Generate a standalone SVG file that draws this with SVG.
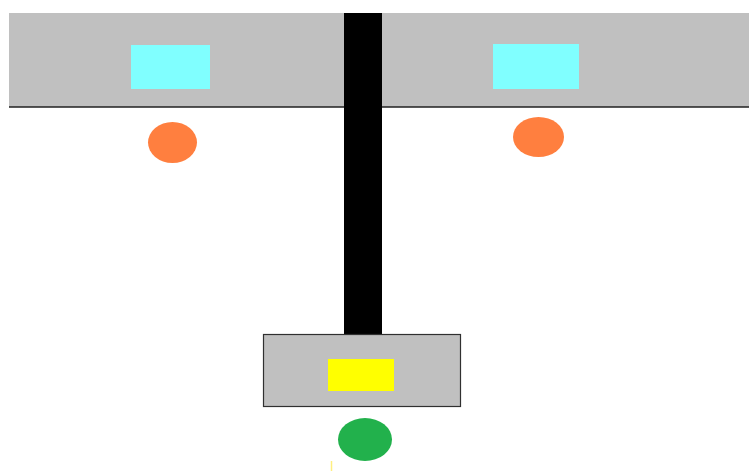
<svg xmlns="http://www.w3.org/2000/svg" width="749" height="471" viewBox="0 0 749 471">
<style>
.gray{fill:#c0c0c0}
.cyan{fill:#80ffff}
.orange{fill:#ff7f3f}
</style>
<rect width="749" height="471" fill="#ffffff"/>
<g id="band">
<rect class="gray" x="9" y="13" width="740" height="94"/>
<line x1="9" y1="107" x2="749" y2="107" stroke="#202020" stroke-width="1.5"/>
</g>
<g id="cyan-left"><rect class="cyan" x="131" y="45" width="79" height="44"/></g>
<g id="cyan-right"><rect class="cyan" x="493" y="44" width="86" height="45"/></g>
<g id="orange-left"><ellipse class="orange" cx="172.5" cy="142.5" rx="24.5" ry="20.5"/></g>
<g id="orange-right"><ellipse class="orange" cx="538.5" cy="137" rx="25.5" ry="20"/></g>
<g id="connectors"><rect x="344" y="13" width="38" height="322" fill="#000000"/></g>
<g id="box">
<rect class="gray" x="263.5" y="334.5" width="197" height="72" stroke="#303030" stroke-width="1.2"/>
<rect x="328" y="359" width="66" height="32" fill="#ffff00"/>
</g>
<g id="green"><ellipse cx="365" cy="439.5" rx="27" ry="21.5" fill="#22b14c"/></g>
<line x1="331.5" y1="461" x2="331.5" y2="471" stroke="#ffef80" stroke-width="1.5"/>
</svg>
